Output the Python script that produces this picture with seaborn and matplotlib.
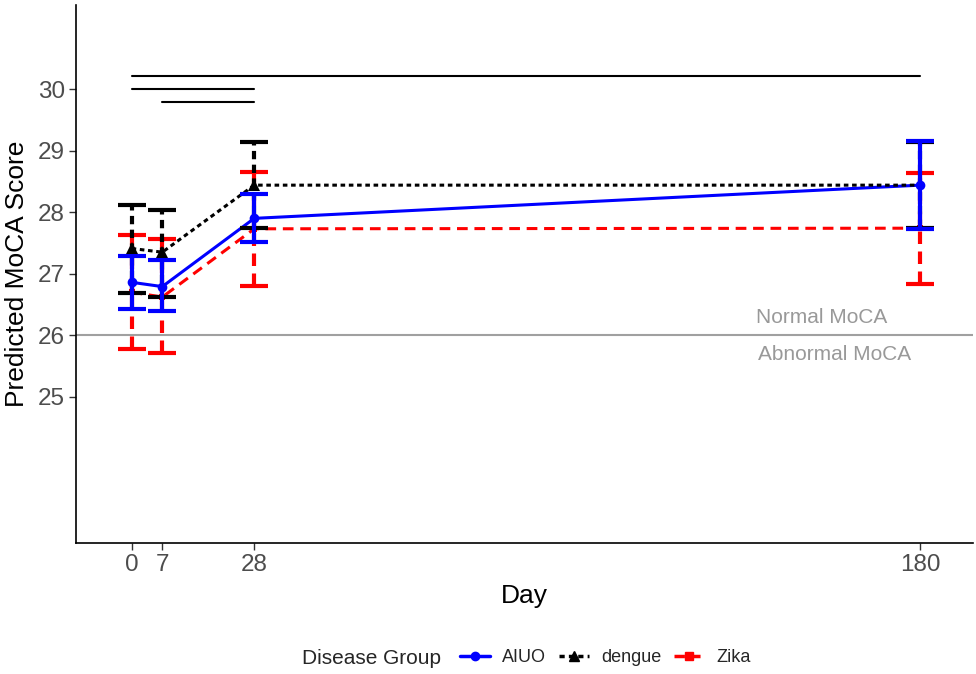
import numpy as np
import pandas as pd
import seaborn as sns
import matplotlib.pyplot as plt
from matplotlib.lines import Line2D

sns.set_theme(style="white")
plt.rcParams['font.family'] = ['Liberation Sans', 'DejaVu Sans']

days = [0, 7, 28, 180]
groups = ["AIUO", "dengue", "Zika"]

aiuo_mean = [26.86, 26.79, 27.90, 28.44]
aiuo_low = [26.43, 26.39, 27.51, 27.73]
aiuo_high = [27.29, 27.22, 28.29, 29.15]

dengue_mean = [27.41, 27.35, 28.44, 28.44]
dengue_low = [26.68, 26.62, 27.75, 27.74]
dengue_high = [28.11, 28.04, 29.14, 29.14]

zika_mean = [26.70, 26.62, 27.73, 27.74]
zika_low = [25.77, 25.71, 26.80, 26.84]
zika_high = [27.63, 27.57, 28.66, 28.64]

# significance bars: (start day, end day, height)
sig_start = [0, 0, 7]
sig_end = [180, 28, 28]
sig_y = [30.21, 30.0, 29.80]

df = pd.DataFrame({
    "Day": days * 3,
    "score": aiuo_mean + dengue_mean + zika_mean,
    "low": aiuo_low + dengue_low + zika_low,
    "high": aiuo_high + dengue_high + zika_high,
    "group": [g for g in groups for _ in days],
})

colors = {"AIUO": "#0000ff", "dengue": "#000000", "Zika": "#ff0000"}
dashes = {"AIUO": "", "dengue": (1.5, 1.2), "Zika": (3.5, 2.2)}
markers = {"AIUO": "o", "dengue": "^", "Zika": "s"}
tick_grey = "#4d4d4d"

fig = plt.figure(figsize=(9.76, 6.74), dpi=100)
ax = fig.add_axes([76 / 976, 1 - 543 / 674, 897 / 976, 538 / 674])

sns.lineplot(data=df, x="Day", y="score", hue="group", style="group",
             palette=colors, dashes=dashes, markers=markers, markersize=5,
             linewidth=2.2, markeredgewidth=0, legend=False, ax=ax, zorder=2)

# error bars drawn above the lines (Zika, dengue, AIUO so blue sits on top)
for g in ["Zika", "dengue", "AIUO"]:
    sub = df[df.group == g]
    eb = ax.errorbar(sub.Day, sub.score,
                     yerr=[sub.score - sub.low, sub.high - sub.score],
                     fmt="none", ecolor=colors[g], elinewidth=3,
                     capsize=10, capthick=3, zorder=3 if g != "AIUO" else 4)
    if g != "AIUO":
        for coll in eb[2]:
            coll.set_linestyle((0, (2.0, 1.3)) if g == "dengue" else (0, (3.0, 1.8)))

# keep the blue points and black triangles above everything
a = df[df.group == "AIUO"]
ax.plot(a.Day, a.score, "o", color="#0000ff", markersize=7, mew=0, zorder=5)
d = df[df.group == "dengue"]
ax.plot(d.Day[:3], d.score[:3], "^", color="black", markersize=8, mew=0, zorder=4)

for x0, x1, yv in zip(sig_start, sig_end, sig_y):
    ax.plot([x0, x1], [yv, yv], color="black", lw=1.5)

ax.axhline(26, color="#a0a0a0", lw=1.5, zorder=1)
ax.text(157.5, 26.28, "Normal MoCA", color="#999999", fontsize=15, ha="center", va="center")
ax.text(160.5, 25.69, "Abnormal MoCA", color="#999999", fontsize=15, ha="center", va="center")

ax.set_xlim(-12.7, 192.1)
ax.set_ylim(22.62, 31.37)
ax.set_xticks(days)
ax.set_yticks([25, 26, 27, 28, 29, 30])
ax.tick_params(axis="both", labelsize=17.5, colors="#333333", length=5, width=1, direction="out",
               bottom=True, left=True, labelcolor=tick_grey, pad=3)
ax.set_xlabel("Day", fontsize=19, color="black", labelpad=6)
ax.set_ylabel("Predicted MoCA Score", fontsize=19, color="black", labelpad=6)
for s in ["top", "right"]:
    ax.spines[s].set_visible(False)
for s in ["left", "bottom"]:
    ax.spines[s].set_color("black")
    ax.spines[s].set_linewidth(1.2)

handles = [
    Line2D([], [], color="#0000ff", lw=2.5, marker="o", markersize=6),
    Line2D([], [], color="black", lw=2.5, ls=(0, (1.5, 1.2)), marker="^", markersize=7),
    Line2D([], [], color="#ff0000", lw=2.5, ls=(0, (3, 1.5)), marker="s", markersize=6),
]
fig.text(302 / 976, 1 - 658 / 674, "Disease Group", fontsize=15, va="center", ha="left")
fig.legend(handles, groups, ncol=3, loc="center left", bbox_to_anchor=(460 / 976, 1 - 658 / 674),
           frameon=False, fontsize=13, handlelength=1.66, columnspacing=0.72, handletextpad=0.66,
           borderpad=0, borderaxespad=0)

fig.savefig("out.png", dpi=100)
